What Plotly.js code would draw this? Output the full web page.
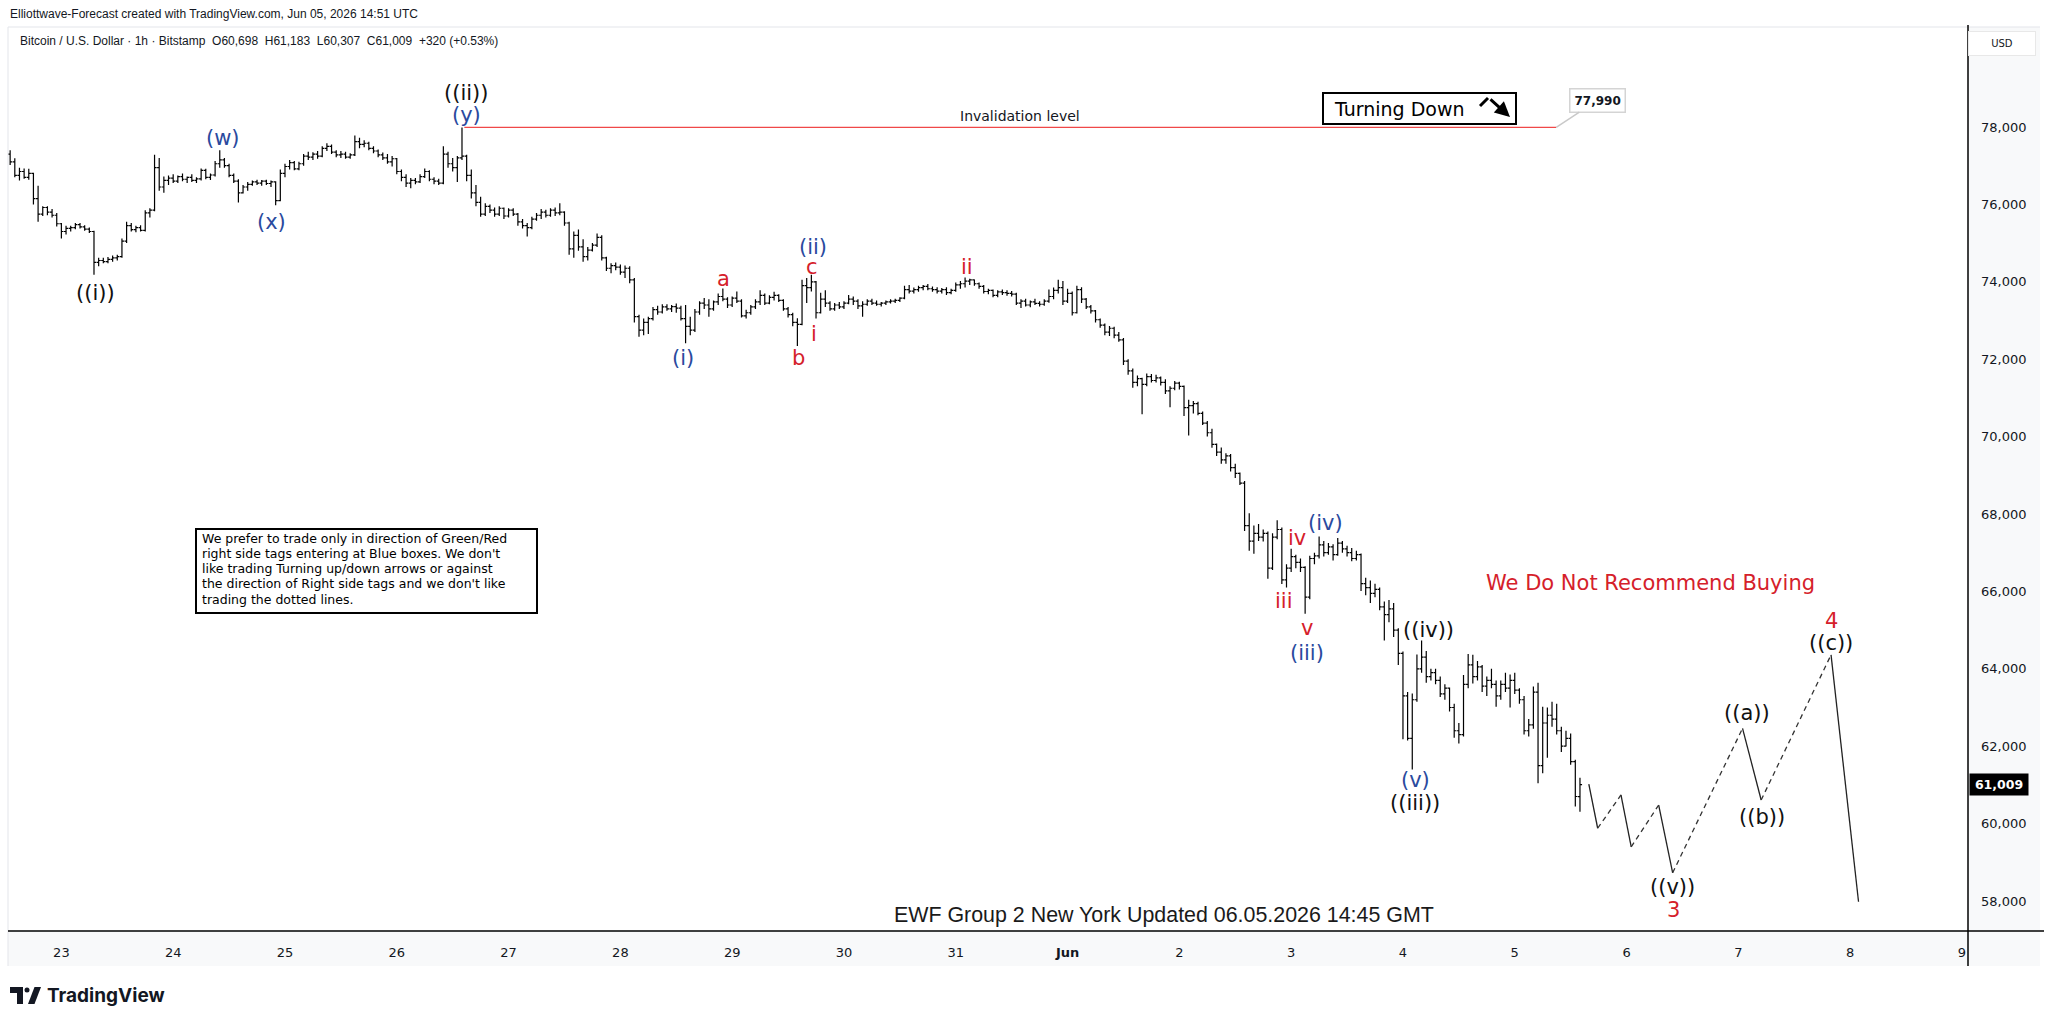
<!DOCTYPE html>
<html><head><meta charset="utf-8">
<script src="https://cdn.plot.ly/plotly-3.0.1.min.js"></script>
<style>html,body{margin:0;padding:0;background:#fff;overflow:hidden}#chart{width:2048px;height:1027px}</style>
</head><body><div id="chart"></div>
<script>
// ---- DATA (prices in thousands of USD, hourly bars; hour 0 = May 23 00:00 UTC) ----
const firstBarHour = -11;
const open = [
77.30,77.10,76.75,76.85,76.70,76.80,76.15,75.75,75.92,75.80,75.72,75.50,
75.30,75.38,75.40,75.48,75.42,75.36,75.30,74.50,74.55,74.52,74.58,74.62,
74.65,75.05,75.45,75.35,75.40,75.33,75.78,75.85,76.95,76.45,76.62,76.68,
76.60,76.72,76.65,76.70,76.62,76.66,76.88,76.70,76.76,77.05,77.15,77.00,
76.75,76.60,76.30,76.45,76.52,76.58,76.55,76.60,76.54,76.58,76.10,76.80,
76.98,77.08,76.92,77.05,77.25,77.22,77.30,77.25,77.45,77.50,77.35,77.28,
77.30,77.22,77.28,77.62,77.55,77.58,77.45,77.38,77.28,77.20,77.10,77.18,
76.85,76.70,76.55,76.62,76.58,76.72,76.85,76.65,76.60,76.55,77.30,77.05,
76.95,77.20,77.25,76.75,76.30,76.05,75.75,75.95,75.85,75.75,75.90,75.70,
75.85,75.75,75.55,75.45,75.40,75.62,75.72,75.80,75.72,75.85,75.78,75.80,
75.52,74.85,75.20,74.90,74.65,74.82,74.95,75.15,74.62,74.35,74.42,74.38,
74.25,74.35,74.05,73.10,72.75,72.95,73.05,73.28,73.22,73.35,73.30,73.36,
73.32,73.05,72.85,72.75,73.22,73.45,73.40,73.30,73.48,73.62,73.55,73.40,
73.58,73.50,73.12,73.20,73.35,73.48,73.65,73.45,73.60,73.65,73.52,73.30,
73.15,72.95,72.90,73.90,73.85,74.00,73.20,73.55,73.45,73.30,73.40,73.35,
73.45,73.55,73.50,73.38,73.42,73.50,73.45,73.42,73.45,73.48,73.50,73.52,
73.58,73.80,73.76,73.80,73.85,73.88,73.82,73.80,73.76,73.80,73.72,73.78,
73.92,73.95,74.02,74.05,73.95,73.88,73.75,73.78,73.65,73.74,73.72,73.70,
73.68,73.45,73.50,73.40,73.48,73.44,73.42,73.50,73.62,73.78,73.85,73.50,
73.70,73.20,73.80,73.55,73.35,73.25,73.02,72.88,72.70,72.80,72.62,72.50,
71.95,71.70,71.40,71.50,71.35,71.55,71.45,71.52,71.40,71.18,71.25,71.38,
71.30,70.75,70.80,70.85,70.60,70.35,70.10,69.80,69.60,69.40,69.50,69.20,
69.05,68.80,67.70,67.30,67.50,67.40,67.50,66.60,67.40,67.60,66.30,66.60,
66.90,66.75,66.62,65.85,66.85,66.92,67.20,67.00,67.15,66.95,67.25,67.10,
67.00,66.85,66.95,66.20,66.10,65.95,66.05,65.60,65.40,65.55,65.00,64.40,
63.30,62.20,63.20,64.00,64.30,63.80,63.90,63.70,63.35,63.50,63.00,62.40,
62.30,63.60,64.10,63.80,64.05,63.55,63.70,63.60,63.30,63.60,63.50,63.70,
63.45,63.20,62.40,62.55,63.40,61.50,62.60,62.80,62.70,62.40,62.00,62.20,
61.60,60.698];
const high = [
77.40,77.19,76.95,76.93,76.92,76.82,76.48,75.95,75.95,75.88,75.78,75.52,
75.45,75.45,75.52,75.52,75.46,75.40,75.32,74.62,74.62,74.64,74.68,74.70,
75.12,75.55,75.52,75.45,75.46,75.85,75.90,77.28,77.20,76.72,76.75,76.78,
76.75,76.80,76.72,76.78,76.70,76.93,76.92,76.80,77.12,77.40,77.20,77.05,
76.80,76.65,76.50,76.58,76.62,76.64,76.63,76.64,76.62,76.60,76.90,77.05,
77.15,77.12,77.10,77.30,77.36,77.35,77.38,77.50,77.58,77.55,77.40,77.38,
77.36,77.32,77.78,77.72,77.66,77.62,77.50,77.42,77.34,77.30,77.25,77.20,
76.90,76.78,76.68,76.68,76.78,76.93,76.88,76.70,76.66,77.50,77.36,77.20,
77.25,77.99,77.28,76.90,76.50,76.20,76.03,76.00,75.92,75.95,75.92,75.90,
75.90,75.78,75.62,75.52,75.68,75.78,75.88,75.86,75.90,75.92,76.03,75.82,
75.55,75.30,75.35,75.10,74.90,75.00,75.25,75.20,74.65,74.48,74.50,74.45,
74.42,74.40,74.10,73.15,73.05,73.10,73.35,73.38,73.42,73.42,73.40,73.44,
73.38,73.40,73.10,73.30,73.50,73.58,73.55,73.52,73.70,73.83,73.60,73.62,
73.75,73.55,73.28,73.40,73.55,73.78,73.70,73.65,73.74,73.68,73.55,73.35,
73.20,73.06,74.05,74.10,74.18,74.02,73.72,73.78,73.50,73.45,73.48,73.50,
73.66,73.62,73.55,73.50,73.55,73.56,73.52,73.48,73.52,73.55,73.56,73.60,
73.90,73.92,73.85,73.90,73.92,73.94,73.88,73.86,73.84,73.86,73.82,73.98,
74.02,74.11,74.08,74.06,73.98,73.92,73.82,73.80,73.78,73.80,73.78,73.76,
73.72,73.55,73.56,73.52,73.56,73.50,73.55,73.80,73.85,74.05,74.02,73.82,
73.75,73.90,73.86,73.58,73.40,73.27,73.05,72.92,72.86,72.84,72.70,72.55,
72.00,71.76,71.58,71.52,71.63,71.62,71.60,71.55,71.48,71.30,71.44,71.42,
71.32,70.95,70.92,70.90,70.65,70.40,70.20,69.82,69.72,69.57,69.55,69.30,
69.07,68.85,68.02,67.70,67.74,67.60,67.55,67.50,67.84,67.65,66.70,67.10,
66.95,66.85,66.65,66.92,67.00,67.42,67.30,67.25,67.22,67.38,67.30,67.18,
67.12,67.05,66.98,66.35,66.28,66.20,66.10,65.74,65.78,65.70,65.05,64.45,
63.40,63.36,64.37,64.73,64.46,64.00,64.00,63.80,63.60,63.52,63.10,62.60,
63.84,64.38,64.36,64.20,64.10,63.80,64.00,63.70,63.70,63.90,63.85,63.90,
63.50,63.30,62.70,63.54,63.64,63.02,63.00,63.15,63.10,62.50,62.40,62.33,
61.65,61.183];
const low = [
77.02,76.70,76.62,76.66,76.64,76.00,75.55,75.70,75.72,75.66,75.43,75.12,
75.22,75.30,75.36,75.38,75.32,75.26,74.18,74.40,74.48,74.48,74.52,74.55,
74.62,75.00,75.30,75.28,75.30,75.30,75.66,75.82,76.35,76.30,76.50,76.55,
76.55,76.60,76.55,76.58,76.55,76.62,76.65,76.63,76.72,76.95,76.95,76.70,
76.55,76.05,76.28,76.35,76.48,76.50,76.48,76.50,76.45,75.98,76.08,76.70,
76.90,76.88,76.88,77.00,77.15,77.15,77.18,77.22,77.38,77.30,77.22,77.20,
77.18,77.18,77.25,77.45,77.48,77.40,77.32,77.22,77.15,77.05,76.98,76.78,
76.60,76.45,76.42,76.52,76.55,76.68,76.60,76.52,76.50,76.52,76.95,76.85,
76.58,77.15,76.60,76.15,75.95,75.68,75.70,75.78,75.68,75.70,75.62,75.66,
75.70,75.45,75.38,75.17,75.36,75.58,75.62,75.66,75.68,75.70,75.72,75.45,
74.70,74.62,74.80,74.52,74.55,74.78,74.90,74.55,74.28,74.22,74.30,74.18,
74.10,73.96,72.95,72.58,72.62,72.65,73.00,73.15,73.18,73.25,73.22,73.20,
73.00,72.41,72.62,72.70,73.15,73.30,73.10,73.25,73.40,73.50,73.32,73.35,
73.45,73.08,73.05,73.15,73.30,73.40,73.40,73.42,73.52,73.48,73.25,73.08,
72.85,72.34,72.88,73.45,73.75,73.05,73.18,73.35,73.25,73.25,73.30,73.30,
73.42,73.40,73.30,73.10,73.38,73.40,73.38,73.36,73.40,73.44,73.45,73.48,
73.55,73.70,73.70,73.74,73.78,73.78,73.74,73.70,73.70,73.66,73.68,73.74,
73.82,73.85,73.92,73.90,73.82,73.70,73.68,73.60,73.60,73.66,73.64,73.62,
73.40,73.32,73.36,73.34,73.40,73.36,73.38,73.46,73.55,73.70,73.40,73.45,
73.13,73.18,73.45,73.30,73.18,72.95,72.81,72.62,72.60,72.54,72.45,71.85,
71.60,71.26,71.30,70.58,71.30,71.40,71.40,71.32,71.10,70.76,71.20,71.22,
70.53,70.03,70.60,70.55,70.30,70.00,69.71,69.50,69.30,69.30,69.10,68.93,
68.75,67.56,67.05,66.97,67.30,67.29,66.33,66.55,67.35,66.19,66.10,66.50,
66.60,66.50,65.42,65.80,66.70,66.85,66.90,66.95,66.80,66.92,67.00,66.90,
66.78,66.80,66.01,65.90,65.70,65.85,65.51,64.73,65.20,64.82,64.10,62.18,
62.15,61.40,63.15,63.90,63.64,63.70,63.60,63.27,63.20,62.90,62.22,62.07,
62.25,63.50,63.62,63.70,63.40,63.30,63.50,63.02,63.20,63.40,63.00,63.35,
63.10,62.30,62.25,62.45,61.04,61.30,61.70,62.50,62.30,61.85,61.99,61.52,
60.44,60.307];
const close = [
77.10,76.75,76.85,76.70,76.80,76.15,75.75,75.92,75.80,75.72,75.50,75.30,
75.38,75.40,75.48,75.42,75.36,75.30,74.50,74.55,74.52,74.58,74.62,74.65,
75.05,75.45,75.35,75.40,75.33,75.78,75.85,76.95,76.45,76.62,76.68,76.60,
76.72,76.65,76.70,76.62,76.66,76.88,76.70,76.76,77.05,77.15,77.00,76.75,
76.60,76.30,76.45,76.52,76.58,76.55,76.60,76.54,76.58,76.10,76.80,76.98,
77.08,76.92,77.05,77.25,77.22,77.30,77.25,77.45,77.50,77.35,77.28,77.30,
77.22,77.28,77.62,77.55,77.58,77.45,77.38,77.28,77.20,77.10,77.18,76.85,
76.70,76.55,76.62,76.58,76.72,76.85,76.65,76.60,76.55,77.30,77.05,76.95,
77.20,77.25,76.75,76.30,76.05,75.75,75.95,75.85,75.75,75.90,75.70,75.85,
75.75,75.55,75.45,75.40,75.62,75.72,75.80,75.72,75.85,75.78,75.80,75.52,
74.85,75.20,74.90,74.65,74.82,74.95,75.15,74.62,74.35,74.42,74.38,74.25,
74.35,74.05,73.10,72.75,72.95,73.05,73.28,73.22,73.35,73.30,73.36,73.32,
73.05,72.85,72.75,73.22,73.45,73.40,73.30,73.48,73.62,73.55,73.40,73.58,
73.50,73.12,73.20,73.35,73.48,73.65,73.45,73.60,73.65,73.52,73.30,73.15,
72.95,72.90,73.90,73.85,74.00,73.20,73.55,73.45,73.30,73.40,73.35,73.45,
73.55,73.50,73.38,73.42,73.50,73.45,73.42,73.45,73.48,73.50,73.52,73.58,
73.80,73.76,73.80,73.85,73.88,73.82,73.80,73.76,73.80,73.72,73.78,73.92,
73.95,74.02,74.05,73.95,73.88,73.75,73.78,73.65,73.74,73.72,73.70,73.68,
73.45,73.50,73.40,73.48,73.44,73.42,73.50,73.62,73.78,73.85,73.50,73.70,
73.20,73.80,73.55,73.35,73.25,73.02,72.88,72.70,72.80,72.62,72.50,71.95,
71.70,71.40,71.50,71.35,71.55,71.45,71.52,71.40,71.18,71.25,71.38,71.30,
70.75,70.80,70.85,70.60,70.35,70.10,69.80,69.60,69.40,69.50,69.20,69.05,
68.80,67.70,67.30,67.50,67.40,67.50,66.60,67.40,67.60,66.30,66.60,66.90,
66.75,66.62,65.85,66.85,66.92,67.20,67.00,67.15,66.95,67.25,67.10,67.00,
66.85,66.95,66.20,66.10,65.95,66.05,65.60,65.40,65.55,65.00,64.40,63.30,
62.20,63.20,64.00,64.30,63.80,63.90,63.70,63.35,63.50,63.00,62.40,62.30,
63.60,64.10,63.80,64.05,63.55,63.70,63.60,63.30,63.60,63.50,63.70,63.45,
63.20,62.40,62.55,63.40,61.50,62.60,62.80,62.70,62.40,62.00,62.20,61.60,
60.70,61.009];

const dayTickHours = [0,24,48,72,96,120,144,168,192,216,240,264,288,312,336,360,384,408];
const dayTickLabels = ['23','24','25','26','27','28','29','30','31','<b>Jun</b>','2','3','4','5','6','7','8','9'];
const priceTicks = [58000,60000,62000,64000,66000,68000,70000,72000,74000,76000,78000];

// projected path (hour, price) and style of each segment
const projHours  = [327.9, 329.8, 334.8, 337.0, 342.9, 345.9, 360.9, 364.9, 379.9, 385.8];
const projPrices = [61020, 59880, 60740, 59400, 60480, 58730, 62460, 60610, 64360, 57980];
const projDashed = [false, true, false, true, false, true, false, true, false];

const invalidationLevel = 77990;
const invalidationFrom = 86.5, invalidationTo = 320.9;
const lastPrice = 61009;

// wave labels
const waveText  = ['((i))','(w)','(x)','((ii))','(y)','(i)','a','(ii)','c','b','i','ii','iii','iv','v','(iii)','(iv)','((iv))','(v)','((iii))','((v))','3','((a))','((b))','4','((c))'];
const waveHour  = [7.4,34.7,45.1,86.9,86.9,133.4,142.2,161.4,161.2,158.3,161.6,194.4,262.5,265.3,267.4,267.4,271.4,293.4,290.7,290.5,345.8,346.0,361.9,365.1,380.0,379.9];
const wavePrice = [73720,77710,75550,78870,78310,72030,74065,74890,74390,72025,72650,74390,65740,67380,65050,64400,67770,65000,61130,60530,58370,57770,62870,60160,65240,64660];
const waveColor = ['k','b','b','k','b','b','r','b','r','r','r','r','r','r','r','b','b','k','b','k','k','r','k','k','r','k'];

const disclaimerLines = [
  'We prefer to trade only in direction of Green/Red',
  "right side tags entering at Blue boxes. We don't",
  'like trading Turning up/down arrows or against',
  "the direction of Right side tags and we don't like",
  'trading the dotted lines.'
];

// ---- RENDER ----
const COLORS = {k:'#111111', b:'#2a4a9e', r:'#d5202a'};
const FONT = '"DejaVu Sans", Verdana, sans-serif';
const X0 = 8, X1 = 1968, Y0 = 27, Y1 = 931;
const px = v => (v - X0) / (X1 - X0);
const py = v => (Y1 - v) / (Y1 - Y0);
const K = v => v * 1000;

const hours = open.map((_, i) => firstBarHour + i);

const traces = [{
  type: 'ohlc', x: hours,
  open: open.map(K), high: high.map(K), low: low.map(K), close: close.map(K),
  increasing: {line: {color: '#000000', width: 1.2}},
  decreasing: {line: {color: '#000000', width: 1.2}},
  tickwidth: 0.45, hoverinfo: 'skip', showlegend: false
}];

const solid = {x: [], y: []}, dashed = {x: [], y: []};
for (let i = 0; i < projDashed.length; i++) {
  const t = projDashed[i] ? dashed : solid;
  t.x.push(projHours[i], projHours[i + 1], null);
  t.y.push(projPrices[i], projPrices[i + 1], null);
}
traces.push({type: 'scatter', mode: 'lines', x: solid.x, y: solid.y, line: {color: '#222222', width: 1.3}, hoverinfo: 'skip', showlegend: false});
traces.push({type: 'scatter', mode: 'lines', x: dashed.x, y: dashed.y, line: {color: '#333333', width: 1.3, dash: '5px,4px'}, hoverinfo: 'skip', showlegend: false});

const annotations = [];
for (let i = 0; i < waveText.length; i++) {
  annotations.push({xref: 'x', yref: 'y', x: waveHour[i], y: wavePrice[i], text: waveText[i], showarrow: false,
    xanchor: 'center', yanchor: 'middle', font: {family: FONT, size: 21, color: COLORS[waveColor[i]]}});
}
const P = (x, y, text, font, extra) => Object.assign({xref: 'paper', yref: 'paper', x: px(x), y: py(y), text, showarrow: false, font}, extra || {});

annotations.push(P(8, 14, 'Elliottwave-Forecast created with TradingView.com, Jun 05, 2026 14:51 UTC',
  {family: '"Liberation Sans", Arial, sans-serif', size: 12, color: '#131722'}, {xanchor: 'left', yanchor: 'middle'}));
annotations.push(P(18, 41, 'Bitcoin / U.S. Dollar · 1h · Bitstamp\u00a0\u00a0O60,698\u00a0\u00a0H61,183\u00a0\u00a0L60,307\u00a0\u00a0C61,009\u00a0\u00a0+320 (+0.53%)',
  {family: '"Liberation Sans", Arial, sans-serif', size: 12, color: '#131722'}, {xanchor: 'left', yanchor: 'middle'}));
annotations.push(P(2002, 43, 'USD', {family: FONT, size: 10, color: '#131722'},
  {xanchor: 'center', yanchor: 'middle', bordercolor: '#e8e8e8', borderwidth: 1, borderpad: 6, bgcolor: '#ffffff', width: 54}));
annotations.push({xref: 'x', yref: 'y', x: 205.8, y: 78284, text: 'Invalidation level', showarrow: false,
  font: {family: FONT, size: 14, color: '#131722'}, xanchor: 'center', yanchor: 'middle'});
annotations.push({xref: 'x', yref: 'y', x: invalidationTo, y: invalidationLevel, text: '<b>77,990</b>', showarrow: true,
  arrowhead: 0, arrowwidth: 1.5, arrowcolor: '#c9c9c9', ax: 41, ay: -27, bgcolor: '#ffffff', bordercolor: '#d4d4d4',
  borderwidth: 1.5, borderpad: 4, font: {family: FONT, size: 12, color: '#131722'}});
annotations.push(P(1399, 109, 'Turning Down', {family: FONT, size: 19, color: '#000000'}, {xanchor: 'center', yanchor: 'middle'}));
annotations.push({xref: 'paper', yref: 'paper', x: px(1510), y: py(117), ax: -21, ay: -19, text: '', showarrow: true,
  arrowhead: 2, arrowsize: 1, arrowwidth: 3, arrowcolor: '#000000'});
annotations.push(P(1650, 583, 'We Do Not Recommend Buying', {family: FONT, size: 21, color: '#d5202a'}, {xanchor: 'center', yanchor: 'middle'}));
const lineY = [538, 553.3, 568.6, 583.9, 599.2];
disclaimerLines.forEach((t, i) => annotations.push(P(200, lineY[i], t, {family: FONT, size: 12.5, color: '#000000'}, {xanchor: 'left', yanchor: 'middle'})));
annotations.push(P(1164, 915, 'EWF Group 2 New York Updated 06.05.2026 14:45 GMT', {family: '"Liberation Sans", Arial, sans-serif', size: 21.4, color: '#1a1a1a'}, {xanchor: 'center', yanchor: 'middle'}));
annotations.push({xref: 'paper', yref: 'y', x: px(1998.5), y: lastPrice, text: '<b>61,009</b>', showarrow: false, xanchor: 'center', yanchor: 'middle',
  bgcolor: '#000000', width: 56, height: 19, font: {family: FONT, size: 12.5, color: '#ffffff'}});
annotations.push(P(45, 996, '<b>TradingView</b>', {family: 'Inter, "Liberation Sans", sans-serif', size: 19, color: '#131722'}, {xanchor: 'left', yanchor: 'middle'}));

const line = (x0, y0, x1, y1, color, width, extra) => Object.assign({type: 'line', xref: 'paper', yref: 'paper', x0: px(x0), y0: py(y0), x1: px(x1), y1: py(y1), line: {color, width}}, extra || {});
const rect = (x0, y0, x1, y1, fill, lineColor, width, extra) => Object.assign({type: 'rect', xref: 'paper', yref: 'paper', x0: px(x0), y0: py(y0), x1: px(x1), y1: py(y1), fillcolor: fill, line: {color: lineColor, width}}, extra || {});
const path = (pts, fill) => ({type: 'path', xref: 'paper', yref: 'paper', path: 'M' + pts.map(p => px(p[0]) + ',' + py(p[1])).join('L') + 'Z', fillcolor: fill, line: {width: 0}});

const shapes = [
  rect(1968, 27, 2040, 966, '#f8f9fa', 'rgba(0,0,0,0)', 0, {layer: 'below'}),
  rect(8, 931, 1968, 966, '#f8f9fa', 'rgba(0,0,0,0)', 0, {layer: 'below'}),
  line(8, 27, 2040, 27, '#e3e5ea', 1),
  line(8, 27, 8, 966, '#e3e5ea', 1),
  line(8, 931, 2044, 931, '#000000', 1.5),
  line(1968, 25, 1968, 966, '#000000', 1.5),
  {type: 'line', xref: 'x', yref: 'y', x0: invalidationFrom, x1: invalidationTo, y0: invalidationLevel, y1: invalidationLevel, line: {color: '#f04848', width: 1.4}},
  rect(196, 529, 537, 613, '#ffffff', '#000000', 2),
  rect(1323, 93, 1516, 124, '#ffffff', '#000000', 2),
  line(1480, 106, 1488, 98, '#000000', 3),
  path([[10, 987], [23, 987], [23, 1004], [17, 1004], [17, 993], [10, 993]], '#131722'),
  {type: 'circle', xref: 'paper', yref: 'paper', x0: px(24.5), x1: px(29.5), y0: py(992.5), y1: py(987.5), fillcolor: '#131722', line: {width: 0}},
  path([[28, 1004], [34.5, 987], [41, 987], [34.5, 1004]], '#131722')
];

const layout = {
  width: 2048, height: 1027,
  margin: {l: X0, r: 2048 - X1, t: Y0, b: 1027 - Y1, pad: 0},
  paper_bgcolor: '#ffffff', plot_bgcolor: '#ffffff',
  showlegend: false,
  xaxis: {range: [-11.46, 409.3], tickmode: 'array', tickvals: dayTickHours, ticktext: dayTickLabels,
    showgrid: false, zeroline: false, showline: false, ticks: 'outside', ticklen: 9, tickcolor: 'rgba(0,0,0,0)',
    tickfont: {family: FONT, size: 13, color: '#131722'}, rangeslider: {visible: false}, fixedrange: true},
  yaxis: {side: 'right', range: [57225, 80584], tickmode: 'array', tickvals: priceTicks, tickformat: ',d',
    showgrid: false, zeroline: false, showline: false, ticks: '', ticklabelstandoff: 12,
    tickfont: {family: FONT, size: 13, color: '#131722'}, fixedrange: true},
  annotations, shapes
};

Plotly.newPlot('chart', traces, layout, {staticPlot: true, displayModeBar: false});
</script>
</body></html>
